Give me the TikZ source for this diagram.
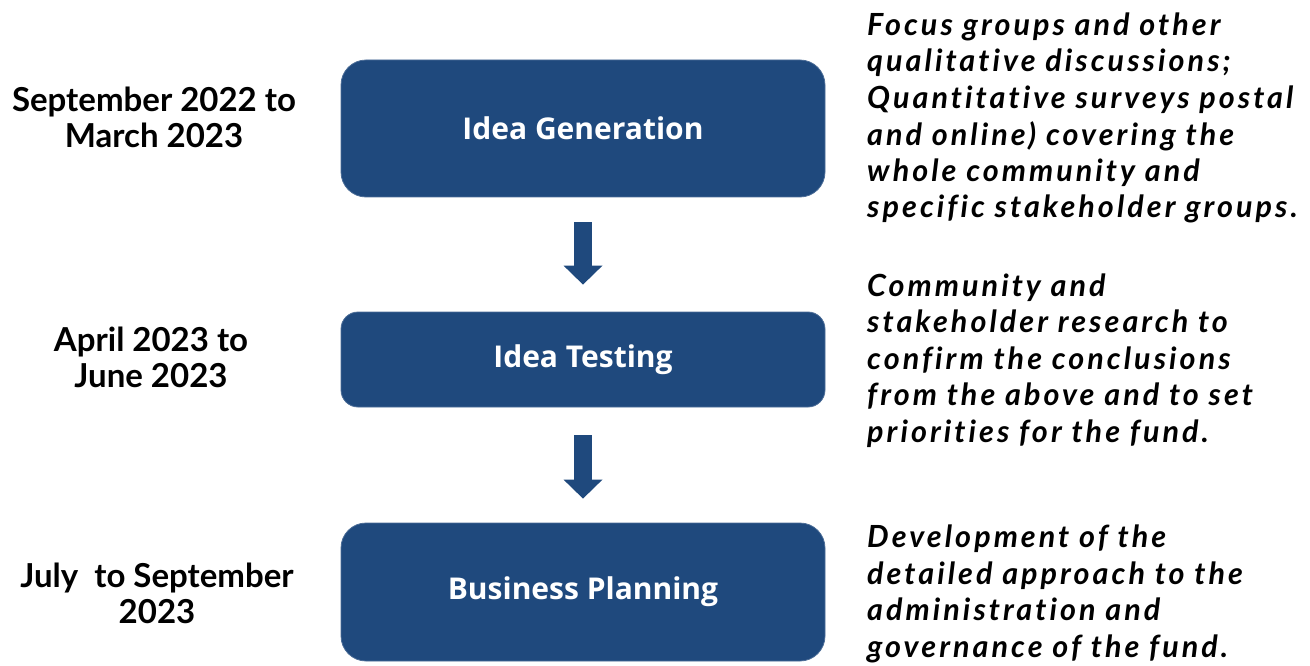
\documentclass[tikz,border=0pt]{standalone}
\usepackage{fontspec}
\setmainfont[Ligatures=NoCommon]{Lato}
\newfontfamily\boxfont{Open Sans}
\newfontfamily\notefont[LetterSpace=10,Ligatures=NoCommon]{Lato}
\usetikzlibrary{arrows.meta,calc}
\definecolor{boxblue}{HTML}{1F497D}
\tikzset{
  stage/.style={draw=boxblue!80!white, line width=0.8pt, fill=boxblue, text=white,
    minimum width=484pt, font=\boxfont\bfseries\fontsize{30}{36}\selectfont, inner sep=0pt},
  period/.style={align=center, anchor=base, font=\bfseries\fontsize{33}{36}\selectfont, inner sep=0pt},
  note/.style={align=left, anchor=base west, font=\notefont\bfseries\itshape\fontsize{30.5}{36.5}\selectfont, inner sep=0pt},
  flow/.style={draw=boxblue, line width=18pt, -{Triangle[width=39pt,length=19pt,line width=0pt]}}
}
\begin{document}
\begin{tikzpicture}[x=1pt,y=-1pt]
\useasboundingbox (0,0) rectangle (1310,666);
\node[stage, minimum height=137pt, rounded corners=25pt] (b1) at (583,128.5) {Idea Generation};
\node[stage, minimum height=95pt, rounded corners=17pt] (b2) at (583,359.5) {Idea Testing};
\node[stage, minimum height=138pt, rounded corners=25pt] (b3) at (583,592) {Business Planning};
\coordinate (a1s) at ($(b1.south)+(0,25)$);
\coordinate (a1e) at ($(b2.north)+(0,-27)$);
\coordinate (a2s) at ($(b2.south)+(0,28)$);
\coordinate (a2e) at ($(b3.north)+(0,-24)$);
\draw[flow] (a1s) -- (a1e);
\draw[flow] (a2s) -- (a2e);
\node[period] (p1) at (154,148) {September 2022 to\\March 2023};
\node[period] (p2) at (151,387) {April 2023 to\\June 2023};
\node[period] (p3) at (157,623) {July~ to September\\2023};
\node[note] (n1) at (867,218) {Focus groups and other\\qualitative discussions;\\Quantitative surveys postal\\and online) covering the\\whole community and\\specific stakeholder groups.};
\node[note] (n2) at (867,442) {Community and\\stakeholder research to\\confirm the conclusions\\from the above and to set\\priorities for the fund.};
\node[note] (n3) at (867,657) {Development of the\\detailed approach to the\\administration and\\governance of the fund.};
\end{tikzpicture}
\end{document}
